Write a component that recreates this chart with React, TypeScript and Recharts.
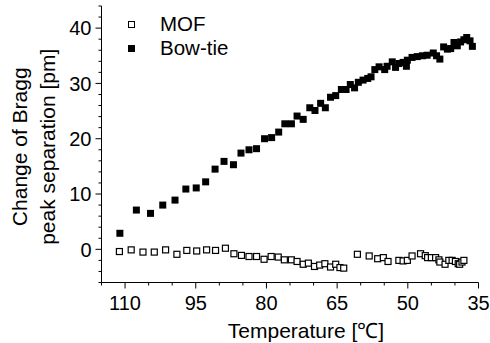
import React from 'react';
import { ScatterChart, Scatter, XAxis, YAxis, Legend, Label } from 'recharts';

const FONT = '"Liberation Sans", Arial, Helvetica, sans-serif';

// MOF (open squares)
const mofTemp = [111.2, 108.7, 106.2, 103.8, 101.4, 99.0, 96.9, 94.8, 92.7, 90.8, 88.7, 86.9, 85.3, 83.7, 82.1, 80.5, 79.0, 77.5, 76.2, 74.7, 73.5, 72.2, 71.1, 69.8, 68.7, 67.6, 66.4, 65.3, 64.4, 63.6, 60.7, 58.2, 56.4, 55.2, 54.2, 51.9, 51.0, 50.1, 49.1, 47.3, 46.3, 45.8, 45.0, 44.1, 43.4, 43.2, 42.1, 41.3, 40.6, 39.9, 39.3, 39.0, 38.5, 38.1];
const mofShift = [-0.4, -0.1, -0.5, -0.5, -0.1, -0.9, -0.2, -0.3, -0.1, -0.2, 0.2, -0.8, -1.1, -1.3, -1.3, -1.8, -1.3, -1.4, -1.9, -1.9, -2.2, -2.7, -2.5, -3.1, -2.85, -2.6, -3.2, -2.7, -3.3, -3.4, -0.9, -1.2, -1.7, -1.5, -2.2, -2.0, -2.1, -2.0, -1.2, -0.8, -1.15, -1.5, -1.5, -1.5, -1.9, -2.3, -2.7, -2.0, -2.0, -2.2, -2.6, -2.7, -2.3, -2.0];

// Bow-tie (filled squares)
const bowTemp = [111.1, 107.6, 104.6, 102.0, 99.4, 97.1, 94.9, 92.9, 90.9, 89.0, 87.0, 85.4, 83.7, 82.1, 80.4, 78.9, 77.4, 76.1, 74.7, 73.5, 72.2, 70.8, 69.7, 68.5, 67.5, 66.4, 65.3, 64.1, 63.1, 62.2, 61.3, 60.5, 59.5, 58.5, 57.8, 57.0, 56.1, 54.9, 54.4, 53.3, 52.6, 51.9, 51.0, 50.3, 50.1, 49.1, 48.0, 46.9, 45.9, 44.6, 43.9, 43.2, 42.4, 41.6, 40.9, 40.2, 39.5, 38.8, 38.1, 37.5, 36.8, 36.3];
const bowShift = [2.9, 7.1, 6.5, 8.0, 8.9, 10.9, 11.1, 12.2, 14.5, 15.9, 15.3, 17.4, 18.0, 18.2, 20.0, 20.2, 21.2, 22.7, 22.7, 24.1, 23.5, 25.6, 25.1, 26.4, 25.6, 27.5, 27.8, 28.9, 28.9, 29.8, 29.2, 30.2, 30.6, 30.9, 31.2, 32.5, 33.0, 32.5, 33.1, 33.9, 32.9, 33.6, 33.8, 33.1, 34.2, 34.7, 34.85, 35.0, 35.1, 35.5, 35.0, 34.4, 36.6, 36.2, 36.3, 37.4, 36.8, 37.5, 37.9, 38.3, 37.7, 36.7];

const seriesNames = ['MOF', 'Bow-tie'];
const xMajorTicks = [110, 95, 80, 65, 50, 35];
const xTicks = [115, 110, 105, 100, 95, 90, 85, 80, 75, 70, 65, 60, 55, 50, 45, 40, 35];
const yMajorTicks = [0, 10, 20, 30, 40];
const yTicks = [-6, -4, -2, 0, 2, 4, 6, 8, 10, 12, 14, 16, 18, 20, 22, 24, 26, 28, 30, 32, 34, 36, 38, 40, 42, 44];
const xTitle = 'Temperature [℃]';
const yTitleLines = ['Change of Bragg', 'peak separation [pm]'];

const mofData = mofTemp.map((t, i) => ({ t, v: mofShift[i] }));
const bowData = bowTemp.map((t, i) => ({ t, v: bowShift[i] }));

const XTick = (props: any) => {
  const { x, y, payload } = props;
  const major = xMajorTicks.includes(payload.value);
  return (
    <g>
      <line x1={x} x2={x} y1={y} y2={y + (major ? 6 : 3)} stroke="#000" strokeWidth={1} />
      {major && (
        <text x={x} y={y + 27} textAnchor="middle" fontSize={20} fontFamily={FONT} fill="#000">
          {payload.value}
        </text>
      )}
    </g>
  );
};

const YTick = (props: any) => {
  const { x, y, payload } = props;
  const major = yMajorTicks.includes(payload.value);
  return (
    <g>
      <line x1={x} x2={x - (major ? 6 : 3)} y1={y} y2={y} stroke="#000" strokeWidth={1} />
      {major && (
        <text x={x - 10} y={y} dy="0.36em" textAnchor="end" fontSize={20} fontFamily={FONT} fill="#000">
          {payload.value}
        </text>
      )}
    </g>
  );
};

const OpenSquare = (p: any) => (
  <rect x={p.cx - 3} y={p.cy - 3} width={6} height={6} fill="#fff" stroke="#000" strokeWidth={1.2} />
);
const FilledSquare = (p: any) => (
  <rect x={p.cx - 3.5} y={p.cy - 3.5} width={7} height={7} fill="#000" />
);

const YLabel = (props: any) => {
  const vb = props.viewBox || { x: 41.5, y: 6, width: 60, height: 277 };
  const cy = vb.y + vb.height / 2 + 2.5;
  const xs = [26.5, 54.5];
  return (
    <g>
      {yTitleLines.map((line, i) => (
        <text
          key={line}
          x={xs[i]}
          y={cy}
          transform={`rotate(-90, ${xs[i]}, ${cy})`}
          textAnchor="middle"
          fontSize={21}
          fontFamily={FONT}
          fill="#000"
        >
          {line}
        </text>
      ))}
    </g>
  );
};

const XLabel = (props: any) => {
  const vb = props.viewBox || { x: 101.5, y: 282.5, width: 377, height: 60 };
  return (
    <text x={vb.x + vb.width / 2 + 16} y={vb.y + 55.5} textAnchor="middle" fontSize={21} fontFamily={FONT} fill="#000">
      {xTitle}
    </text>
  );
};

const renderLegend = () => (
  <div style={{ fontFamily: FONT, fontSize: 20.5, color: '#000' }}>
    {seriesNames.map((name, i) => (
      <div key={name} style={{ display: 'flex', alignItems: 'center', height: 24, lineHeight: '24px' }}>
        <div
          style={{
            width: i === 0 ? 5 : 7,
            height: i === 0 ? 5 : 7,
            marginLeft: 4,
            border: i === 0 ? '1px solid #000' : 'none',
            background: i === 0 ? '#fff' : '#000',
            boxSizing: 'content-box',
          }}
        />
        <span style={{ marginLeft: 25 }}>{name}</span>
      </div>
    ))}
  </div>
);

export default function App() {
  return (
    <div style={{ position: 'absolute', left: 0, top: 0, width: 490, height: 343, background: '#fff' }}>
      <ScatterChart width={490} height={343} margin={{ top: 6, right: 11.5, bottom: 0, left: 41.5 }}>
        <XAxis
          type="number"
          dataKey="t"
          domain={[35, 115]}
          reversed
          ticks={xTicks}
          interval={0}
          tickSize={0}
          tickMargin={0}
          tick={<XTick />}
          axisLine={{ stroke: '#000', strokeWidth: 1 }}
          tickLine={false}
          height={60.5}
          allowDataOverflow
        >
          <Label content={<XLabel />} />
        </XAxis>
        <YAxis
          type="number"
          dataKey="v"
          domain={[-6, 44]}
          ticks={yTicks}
          interval={0}
          tickSize={0}
          tickMargin={0}
          tick={<YTick />}
          axisLine={{ stroke: '#000', strokeWidth: 1 }}
          tickLine={false}
          width={60}
          allowDataOverflow
        >
          <Label content={<YLabel />} />
        </YAxis>
        <Legend
          layout="horizontal"
          verticalAlign="middle"
          align="center"
          content={renderLegend}
          wrapperStyle={{ left: 124, top: 12, width: 120, height: 48 }}
        />
        <Scatter name={seriesNames[0]} data={mofData} fill="#fff" shape={<OpenSquare />} isAnimationActive={false} />
        <Scatter name={seriesNames[1]} data={bowData} fill="#000" shape={<FilledSquare />} isAnimationActive={false} />
      </ScatterChart>
    </div>
  );
}
